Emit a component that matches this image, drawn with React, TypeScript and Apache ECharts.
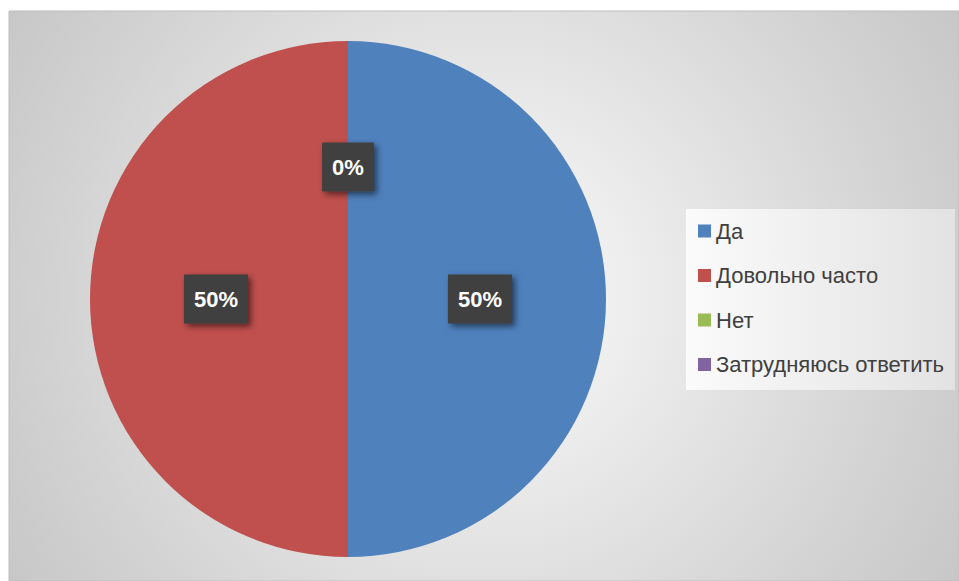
import React, { useEffect, useRef } from "react";
import * as echarts from "echarts";

const categories = ["Да", "Довольно часто", "Нет", "Затрудняюсь ответить"];
const values = [50, 50, 0, 0];
const colors = ["#4F81BD", "#C0504D", "#9BBB59", "#8064A2"];

export default function App() {
  const ref = useRef<HTMLDivElement>(null);
  useEffect(() => {
    if (!ref.current) return;
    const chart = echarts.init(ref.current, null, { renderer: "svg" });
    const font = "'Liberation Sans', Arial, sans-serif";
    chart.setOption({
      animation: false,
      color: colors,
      graphic: [
        {
          type: "rect",
          z: -10,
          silent: true,
          shape: { x: 9, y: 11, width: 950, height: 570 },
          style: {
            fill: new echarts.graphic.RadialGradient(
              483,
              296,
              600,
              [
                { offset: 0, color: "#ffffff" },
                { offset: 0.2, color: "#f0f0f0" },
                { offset: 0.7, color: "#d3d3d3" },
                { offset: 1, color: "#c3c3c3" },
              ],
              true
            ),
            stroke: "#bdbdbd",
            lineWidth: 1,
          },
        },
        {
          type: "rect",
          z: -5,
          silent: true,
          shape: { x: 686, y: 209, width: 269, height: 181 },
          style: {
            fill: new echarts.graphic.LinearGradient(0, 0, 1, 0, [
              { offset: 0, color: "#fbfbfb" },
              { offset: 1, color: "#e2e2e2" },
            ]),
          },
        },
      ],
      legend: {
        orient: "vertical",
        left: 693,
        top: 215,
        icon: "rect",
        itemWidth: 13,
        itemHeight: 13,
        itemGap: 22.5,
        data: categories,
        textStyle: { fontFamily: font, fontSize: 22, color: "#404040" },
      },
      series: [
        {
          type: "pie",
          center: [348, 299],
          radius: 258,
          startAngle: 90,
          clockwise: true,
          avoidLabelOverlap: false,
          labelLine: { show: false },
          label: {
            show: true,
            position: "inside",
            formatter: (p: any) => Math.round(p.percent) + "%",
            fontFamily: font,
            fontSize: 22,
            fontWeight: "bold",
            color: "#ffffff",
            backgroundColor: "#3f3f3f",
            padding: [14, 10, 13, 10],
            shadowColor: "rgba(0,0,0,0.55)",
            shadowBlur: 6,
            shadowOffsetX: 3,
            shadowOffsetY: 3,
          },
          data: categories.map((name, i) => ({
            name,
            value: values[i],
            label: i === 3 ? { show: false } : undefined,
          })),
        },
      ],
    });
    return () => chart.dispose();
  }, []);
  return (
    <div
      ref={ref}
      style={{ position: "absolute", left: 0, top: 0, width: 959, height: 581 }}
    />
  );
}
